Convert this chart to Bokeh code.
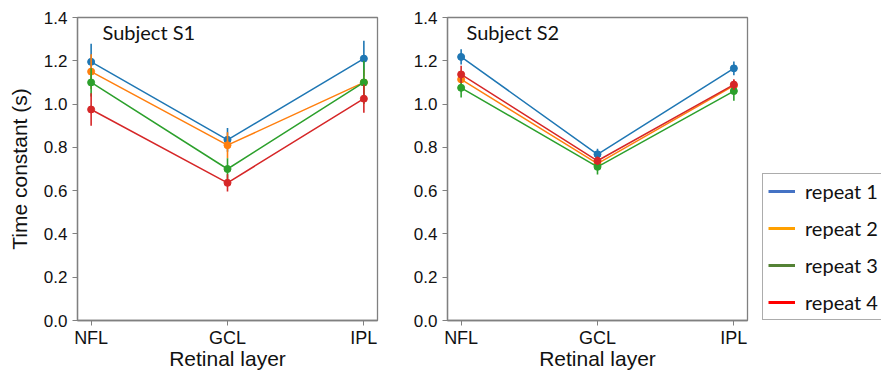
from bokeh.plotting import figure
from bokeh.layouts import row
from bokeh.models import (Range1d, FixedTicker, Label, Legend, LegendItem,
                          PrintfTickFormatter)
from bokeh.embed import file_html
from bokeh.resources import INLINE

# ---------------- data ----------------
layers = ["NFL", "GCL", "IPL"]
repeats = ["repeat 1", "repeat 2", "repeat 3", "repeat 4"]
y_ticks = [0.0, 0.2, 0.4, 0.6, 0.8, 1.0, 1.2, 1.4]

s1_repeat1 = [1.195, 0.835, 1.21]
s1_repeat2 = [1.15, 0.81, 1.10]
s1_repeat3 = [1.10, 0.70, 1.10]
s1_repeat4 = [0.975, 0.636, 1.025]
s1_err1 = [0.084, 0.055, 0.082]
s1_err2 = [0.08, 0.06, 0.06]
s1_err3 = [0.065, 0.05, 0.10]
s1_err4 = [0.075, 0.04, 0.065]

s2_repeat1 = [1.218, 0.768, 1.165]
s2_repeat2 = [1.114, 0.725, 1.085]
s2_repeat3 = [1.075, 0.71, 1.06]
s2_repeat4 = [1.137, 0.738, 1.09]
s2_err1 = [0.035, 0.025, 0.032]
s2_err2 = [0.03, 0.02, 0.025]
s2_err3 = [0.045, 0.035, 0.045]
s2_err4 = [0.04, 0.02, 0.025]

plot_colors = ["#1f77b4", "#ff7f0e", "#2ca02c", "#d62728"]
legend_colors = ["#4472C4", "#FFA000", "#548235", "#FF0000"]

TICK_FONT = "Liberation Sans"
LABEL_FONT = "Lato"
FRAME_COLOR = "#808080"
TOP, BOTTOM, HEIGHT = 17, 52, 372


def make_panel(title, series, errors, width, border_left, border_right,
               title_x, ylabel=None):
    p = figure(width=width, height=HEIGHT, output_backend="svg",
               toolbar_location=None,
               x_range=Range1d(-0.1, 2.1), y_range=Range1d(0, 1.4),
               min_border_left=border_left, min_border_right=border_right,
               min_border_top=TOP, min_border_bottom=BOTTOM)
    p.grid.visible = False
    p.outline_line_color = FRAME_COLOR
    p.outline_line_width = 1.3
    p.background_fill_color = "white"
    p.border_fill_color = "white"

    xs = list(range(len(layers)))
    p.xaxis.ticker = FixedTicker(ticks=xs)
    p.xaxis.major_label_overrides = {i: name for i, name in enumerate(layers)}
    p.yaxis.ticker = FixedTicker(ticks=y_ticks)
    p.yaxis.formatter = PrintfTickFormatter(format="%.1f")
    for ax in (p.xaxis, p.yaxis):
        ax.axis_line_color = FRAME_COLOR
        ax.axis_line_width = 1.3
        ax.major_tick_line_color = FRAME_COLOR
        ax.major_tick_out = 5
        ax.major_tick_in = 0
        ax.minor_tick_line_color = None
        ax.major_label_text_font = TICK_FONT
        ax.major_label_text_color = "#111111"
        ax.axis_label_text_font = TICK_FONT
        ax.axis_label_text_font_style = "normal"
        ax.axis_label_text_color = "#111111"
    p.xaxis.major_label_text_font_size = "18px"
    p.yaxis.major_label_text_font_size = "17px"
    p.xaxis.major_label_standoff = 2
    p.yaxis.major_label_standoff = 5

    p.xaxis.axis_label = "Retinal layer"
    p.xaxis.axis_label_text_font_size = "21px"
    p.xaxis.axis_label_standoff = -4
    if ylabel:
        p.yaxis.axis_label = ylabel
        p.yaxis.axis_label_text_font_size = "21px"
        p.yaxis.axis_label_standoff = 10

    for vals, errs, col in zip(series, errors, plot_colors):
        lo = [v - e for v, e in zip(vals, errs)]
        hi = [v + e for v, e in zip(vals, errs)]
        p.line(xs, vals, line_color=col, line_width=1.5)
        p.segment(x0=xs, y0=lo, x1=xs, y1=hi, line_color=col, line_width=1.6)
        p.scatter(xs, vals, size=7, fill_color=col, line_color=col)

    p.add_layout(Label(x=title_x, y=301, x_units="screen", y_units="screen",
                       text=title, text_font=LABEL_FONT,
                       text_font_size="20px", text_color="#111111",
                       text_baseline="top"))
    return p


p1 = make_panel("Subject S1",
                [s1_repeat1, s1_repeat2, s1_repeat3, s1_repeat4],
                [s1_err1, s1_err2, s1_err3, s1_err4],
                width=397, border_left=77, border_right=20, title_x=25,
                ylabel="Time constant (s)")
p2 = make_panel("Subject S2",
                [s2_repeat1, s2_repeat2, s2_repeat3, s2_repeat4],
                [s2_err1, s2_err2, s2_err3, s2_err4],
                width=360, border_left=50, border_right=10, title_x=19)

# legend panel
p3 = figure(width=124, height=HEIGHT, output_backend="svg",
            toolbar_location=None,
            x_range=Range1d(0, 1), y_range=Range1d(0, 1),
            x_axis_type=None, y_axis_type=None,
            min_border_left=0, min_border_right=0,
            min_border_top=TOP, min_border_bottom=BOTTOM)
p3.grid.visible = False
p3.outline_line_color = None
items = []
for name, col in zip(repeats, legend_colors):
    # legend swatch only; its data lies outside the visible range
    r = p3.line(x=[5, 6], y=[5, 6], line_color=col, line_width=3)
    items.append(LegendItem(label=name, renderers=[r]))
legend = Legend(items=items, location=(5, 0), glyph_width=27,
                glyph_height=20, label_height=20, label_standoff=10,
                spacing=13, padding=5, margin=0,
                label_text_font=LABEL_FONT, label_text_font_size="20px",
                label_text_color="#111111",
                border_line_color="#595959", border_line_width=1,
                background_fill_color="white", background_fill_alpha=1)
p3.add_layout(legend)

layout = row(p1, p2, p3)
open("out.html", "w").write(file_html(layout, INLINE))
